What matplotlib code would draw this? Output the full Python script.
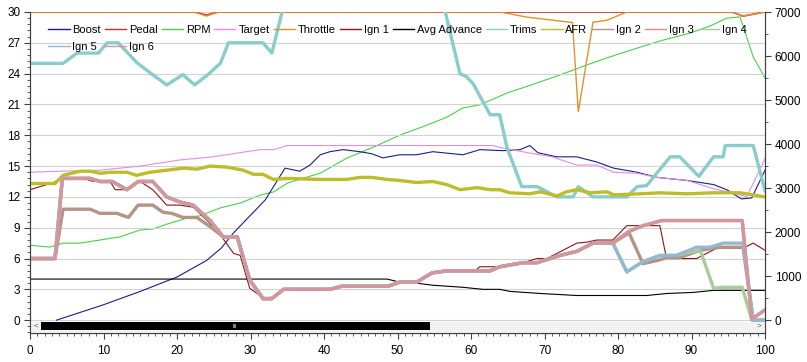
import matplotlib
matplotlib.use("Agg")
import matplotlib.pyplot as plt
from matplotlib.patches import Rectangle
from matplotlib.ticker import MultipleLocator

plt.rcParams['font.family'] = ['Liberation Sans', 'DejaVu Sans']

# ---- data (left axis units unless noted) ----
boost_x = [3.6, 10, 15, 20, 24, 26, 27.7, 32, 34.7, 36.7, 38.1, 39.5, 40.8, 42.6, 44.9, 46.5, 48,
           50.3, 52.6, 54.8, 58.9, 61.2, 64.4, 66.7, 68, 69.1, 71.7, 74.4, 77.1, 79.4, 82.6, 85.3,
           89.4, 93, 94.8, 96.8, 98.2, 100]
boost_y = [0, 1.5, 2.8, 4.2, 5.8, 7.0, 8.5, 11.7, 14.8, 14.5, 15.1, 16.1, 16.4, 16.6, 16.4, 16.2, 15.8,
           16.1, 16.1, 16.4, 16.1, 16.6, 16.5, 16.6, 17.0, 16.3, 15.9, 15.9, 15.4, 14.8, 14.4, 13.9,
           13.6, 13.2, 12.7, 11.8, 11.9, 14.6]

pedal_x = [0, 22.4, 24, 25.6, 95.5, 97, 100]
pedal_y = [30, 30, 29.7, 30, 30, 29.6, 30]

rpm_x = [0, 2.7, 4.5, 6.8, 9.5, 12.2, 15, 16.7, 18.6, 21.4, 23.1, 25.9, 28.6, 31.3, 33.1, 35, 36.7,
         39.5, 43.1, 46.7, 50.3, 54, 56.7, 58.9, 61.2, 64.9, 68.5, 72.1, 75.8, 78.9, 82.6, 86.1,
         89.8, 92.5, 94.8, 96.6, 98.4, 100]
rpm_y = [1700, 1660, 1750, 1750, 1820, 1890, 2050, 2070, 2180, 2320, 2370, 2550, 2660, 2840, 2910,
         3110, 3200, 3340, 3680, 3930, 4200, 4430, 4610, 4820, 4890, 5160, 5360, 5570, 5800, 5980,
         6180, 6360, 6520, 6680, 6860, 6890, 5980, 5500]

target_x = [0, 4.1, 9.5, 15, 20.4, 24.9, 27.6, 31.3, 33.1, 35, 63, 64, 68.5, 71, 74.4, 77.1, 79.4,
            82.6, 85.3, 89.4, 93, 95.6, 97.5, 100]
target_y = [14.4, 14.5, 14.6, 15.0, 15.6, 15.9, 16.2, 16.6, 16.6, 17.0, 17.0, 16.8, 16.2, 15.9, 15.1,
            15.1, 14.4, 14.3, 13.9, 13.6, 12.8, 12.4, 12.0, 15.7]

throttle_x = [0, 22.4, 24, 25.6, 64, 67.6, 73.5, 73.8, 74.6, 76.6, 78.5, 81.2, 95.5, 97, 100]
throttle_y = [30, 30, 29.6, 30, 30, 29.5, 29.0, 29.0, 20.3, 29.0, 29.2, 30, 30, 29.6, 30]

ign1_x = [0, 3.2, 4.5, 7.3, 8.6, 10.9, 11.6, 13.2, 15, 16.7, 18.6, 20.4, 22.2, 24.1, 25.9, 27.7,
          28.6, 29.9, 31.7, 32.9, 34.5, 40.8, 42.4, 48.7, 50.3, 52.6, 54.7, 56.7, 58.2, 60.7, 61.2,
          63.5, 65.5, 67.1, 69, 70.3, 71.7, 74.4, 75.8, 77.1, 79.3, 81.2, 85.7, 86.6, 90.7, 93.4,
          97, 98.4, 100]
ign1_y = [12.7, 13.4, 13.9, 13.8, 13.5, 13.5, 12.7, 12.7, 13.5, 12.7, 11.2, 11.2, 11.0, 9.7, 8.3, 6.5,
          6.3, 3.1, 2.2, 2.2, 3.0, 3.0, 3.3, 3.3, 3.7, 3.7, 4.6, 4.7, 4.9, 4.9, 5.2,
          5.2, 5.5, 5.6, 6.0, 6.0, 6.5, 7.5, 7.6, 7.8, 7.8, 9.2, 9.2, 6.0, 6.0, 7.0,
          7.0, 7.5, 6.8]

avg_x = [0, 48.6, 50.3, 52.6, 54.8, 58.9, 61.6, 63.9, 65.3, 69.4, 74.4, 83.9, 86.7, 90.2, 93, 100]
avg_y = [4.0, 4.0, 3.7, 3.6, 3.4, 3.2, 3.0, 3.0, 2.8, 2.6, 2.4, 2.4, 2.6, 2.7, 2.9, 2.9]

trims_x = [0, 4.5, 6.4, 9.3, 10.5, 12, 14.5, 16.3, 18.6, 20.8, 22.4, 24.2, 25.9, 27, 31.7, 32.9,
           34.3, 35.5, 55.5, 56.5, 58.5, 59.4, 60.3, 62.6, 63.9, 64.9, 66.9, 69, 71.7, 73.9, 74.6,
           76.6, 81.2, 82.6, 83.9, 87.1, 88.4, 91, 93, 94.3, 94.6, 98.4, 100]
trims_y = [25, 25, 26, 26, 27, 27, 25.1, 24.1, 22.9, 23.9, 22.9, 23.9, 25, 27, 27, 26,
           30, 33.5, 33.5, 30, 24, 23.7, 23.0, 20, 20, 16.8, 13, 13, 12, 12, 13,
           12, 12, 13, 13.1, 15.9, 15.9, 14, 15.9, 15.9, 17, 17, 12.6]

afr_x = [0, 3.4, 4.5, 6.8, 8.2, 9.5, 10.9, 13.2, 14.5, 16.3, 18.6, 20.9, 22.7, 24.5, 26.8, 29, 30.4,
         31.7, 33.1, 35, 39.5, 43.1, 44.9, 46.5, 48.6, 50.3, 52.6, 54.8, 56.7, 58.5, 60.8, 62.6,
         63.9, 65.3, 68, 69.4, 71.7, 73, 74.4, 76.2, 78.5, 79.4, 83, 85.7, 89.4, 93, 96.6, 100]
afr_y = [13.3, 13.3, 14.1, 14.5, 14.5, 14.3, 14.4, 14.4, 14.1, 14.4, 14.6, 14.8, 14.7, 15.0, 14.9,
         14.6, 14.2, 14.2, 13.7, 13.8, 13.7, 13.7, 13.9, 13.9, 13.7, 13.6, 13.4, 13.5, 13.2, 12.7,
         12.9, 12.7, 12.7, 12.4, 12.3, 12.5, 12.1, 12.5, 12.7, 12.4, 12.5, 12.2, 12.3, 12.4, 12.3,
         12.4, 12.4, 12.0]

# shared ignition path up to ~79 s (Ign 3..6 overlap there)
ign_base_x = [0, 3.4, 4.4, 8.2, 9.5, 11.2, 13.2, 14.7, 16.7, 18.6, 20.4, 22.2, 24.5, 26.3, 28.2,
              29.9, 31.7, 32.9, 34.5, 40.8, 42.4, 48.7, 50.3, 52.6, 54.7, 56.7, 62.6, 63.9, 67.1,
              69, 72.1, 74.4, 76.6, 79.3]
ign_base_y = [6, 6, 13.8, 13.8, 13.5, 13.5, 12.7, 13.5, 13.5, 12.0, 11.5, 11.2, 9.7, 8.1, 8.1,
              3.9, 2.1, 2.1, 3.0, 3.0, 3.3, 3.3, 3.7, 3.7, 4.6, 4.8, 4.8, 5.2, 5.6,
              5.6, 6.3, 6.7, 7.5, 7.5]

ign2_x = [0, 3.4, 4.5, 8.2, 9.5, 11.8, 13.4, 14.7, 16.7, 18.1, 19.3, 20.8, 22.7, 24.5] + ign_base_x[13:] + \
         [81.5, 83.4, 85.3, 86.7, 88.4, 91.2, 93.9, 97, 98.4, 100]
ign2_y = [6, 6, 10.8, 10.8, 10.4, 10.4, 10.0, 11.2, 11.2, 10.5, 10.4, 10.0, 10.0, 9.1] + ign_base_y[13:] + \
         [8.5, 5.5, 5.8, 6.1, 6.1, 6.8, 7.1, 7.1, 0, 0]

ign3_x = ign_base_x + [81.4, 83.4, 86, 96.9, 98.2, 100]
ign3_y = ign_base_y + [8.6, 9.2, 9.7, 9.7, 0.1, 1.0]

ign5_x = ign_base_x + [81.2, 83.4, 85.7, 87.9, 90.7, 92.5, 94.3, 97, 98.4, 100]
ign5_y = ign_base_y + [4.7, 5.7, 6.3, 6.3, 7.1, 7.1, 7.5, 7.5, 0, 0]

ign4_x = ign_base_x + [81.2, 83.4, 85.7, 87.9, 91.2, 93, 94.3, 96.9, 98.2, 100]
ign4_y = ign_base_y + [4.7, 5.7, 6.3, 6.3, 6.8, 3.1, 3.2, 3.2, 0, 0]

ign6_x = ign3_x
ign6_y = ign3_y

x_ticks = [0, 10, 20, 30, 40, 50, 60, 70, 80, 90, 100]
left_ticks = [0, 3, 6, 9, 12, 15, 18, 21, 24, 27, 30]
right_ticks = [0, 1000, 2000, 3000, 4000, 5000, 6000, 7000]

# ---- figure ----
fig = plt.figure(figsize=(8.07, 3.62), dpi=100)
ax = fig.add_axes([30 / 807, 29 / 362, 735 / 807, 321 / 362])
ax2 = ax.twinx()
ax.set_zorder(ax2.get_zorder() + 1)
ax.patch.set_visible(False)
ax2.set_facecolor('#fbfbfb')

y_lo = -1.25
ax.set_xlim(0, 100)
ax.set_ylim(y_lo, 30)
ax2.set_ylim(y_lo * 7000 / 30, 7000)

thin = 0.8
thick = 2.4
l_boost, = ax.plot(boost_x, boost_y, color='#1c1c8a', lw=thin, label='Boost')
l_pedal, = ax.plot(pedal_x, pedal_y, color='#c83030', lw=1.2, label='Pedal')
l_rpm, = ax2.plot(rpm_x, rpm_y, color='#48d048', lw=thin, label='RPM')
l_target, = ax.plot(target_x, target_y, color='#e08ee0', lw=thin, label='Target')
l_throttle, = ax.plot(throttle_x, throttle_y, color='#e0922c', lw=1.0, label='Throttle')
l_ign1, = ax.plot(ign1_x, ign1_y, color='#8a1515', lw=thin, label='Ign 1')
l_avg, = ax.plot(avg_x, avg_y, color='black', lw=thin, label='Avg Advance')
l_trims, = ax.plot(trims_x, trims_y, color='#88cccc', lw=thick, label='Trims')
l_afr, = ax.plot(afr_x, afr_y, color='#bdbd2a', lw=thick, label='AFR')
l_ign2, = ax.plot(ign2_x, ign2_y, color='#b49484', lw=thick, label='Ign 2')
l_ign3, = ax.plot(ign3_x, ign3_y, color='#d88c8c', lw=thick, label='Ign 3')
l_ign4, = ax.plot(ign4_x, ign4_y, color='#a8cc98', lw=thick, label='Ign 4')
l_ign5, = ax.plot(ign5_x, ign5_y, color='#94b8d4', lw=thick, label='Ign 5')
l_ign6, = ax.plot(ign6_x, ign6_y, color='#d4969e', lw=thick, label='Ign 6')

# legend filled column by column, so this order gives two rows:
# Boost..Ign 4 on top, Ign 5, Ign 6 below
handles = [l_boost, l_ign5, l_pedal, l_ign6, l_rpm, l_target, l_throttle, l_ign1, l_avg,
           l_trims, l_afr, l_ign2, l_ign3, l_ign4]
leg = ax.legend(handles=handles, ncol=12, loc='upper left', bbox_to_anchor=(0.016, 0.981),
                borderaxespad=0, fontsize=8, frameon=True, fancybox=False, framealpha=0,
                edgecolor='#c8c8c8', handlelength=1.9, handletextpad=0.25, columnspacing=0.38,
                labelspacing=0.65, borderpad=0.6)
leg.get_frame().set_linewidth(0.8)
for h in leg.legend_handles:
    h.set_linewidth(1.0)

# grid and ticks
for v in left_ticks:
    ax.axhline(v, color='#d2d2d2', lw=0.8, zorder=0)
ax.set_xticks(x_ticks)
ax.xaxis.set_minor_locator(MultipleLocator(1))
ax.set_yticks(left_ticks)
ax.yaxis.set_minor_locator(MultipleLocator(0.6))
ax2.set_yticks(right_ticks)
ax2.yaxis.set_minor_locator(MultipleLocator(500))

for a in (ax, ax2):
    a.tick_params(which='major', length=4, width=0.8, color='#404040', labelsize=8.5, pad=3)
    a.tick_params(which='minor', length=2, width=0.6, color='#404040')
    for s in a.spines.values():
        s.set_color('#404040')
        s.set_linewidth(0.8)
    a.spines['top'].set_visible(False)
ax.tick_params(axis='x', which='major', pad=5)

# scroll bar strip under the plot
ax.add_patch(Rectangle((0, y_lo), 100, -y_lo - 0.15, facecolor='#f2f2f2', edgecolor='none', zorder=1))
ax.add_patch(Rectangle((1.5, -1.0), 52.9, 0.8, facecolor='black', edgecolor='none', zorder=5))
ax.text(0.8, -0.62, '<', fontsize=6, color='#606060', ha='center', va='center', zorder=6)
ax.text(99.2, -0.62, '>', fontsize=6, color='#606060', ha='center', va='center', zorder=6)
ax.text(27.9, -0.6, 'III', fontsize=4, color='white', ha='center', va='center', zorder=6)

fig.savefig('out.png', dpi=100)
